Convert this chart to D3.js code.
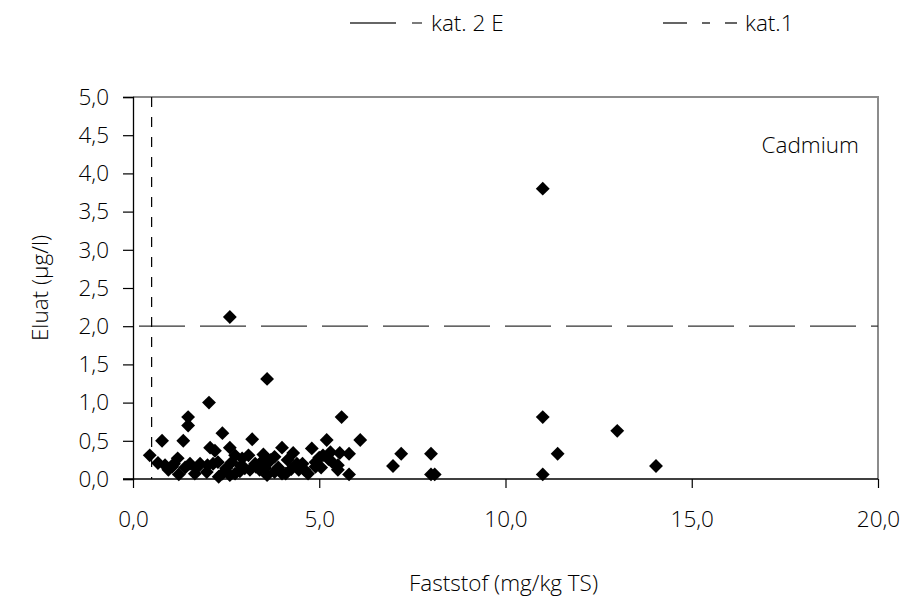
<!DOCTYPE html>
<html>
<head>
<meta charset="utf-8">
<script src="https://cdn.jsdelivr.net/npm/d3@7"></script>
<style>
  html, body { margin: 0; padding: 0; background: #fff; }
  svg { display: block; }
  text { font-family: "Open Sans", "Liberation Sans", sans-serif; font-weight: 300; fill: #000; }
</style>
</head>
<body>
<svg id="chart" width="919" height="602"></svg>
<script>
// Faststof (mg/kg TS) vs. Eluat (µg/l) for cadmium samples
const faststof = [
  0.45, 0.78, 0.67, 0.86, 1.05, 1.2, 1.23, 1.35, 1.48, 1.48, 1.53, 1.66, 1.8, 1.98, 2.04, 2.07, 2.15,
  2.2, 2.28, 2.3, 2.4, 2.4, 2.6, 2.6, 2.6, 2.65, 2.74, 2.74, 2.87, 2.93, 3.1, 3.14, 3.2, 3.28, 3.3,
  3.5, 3.5, 3.6, 3.6, 3.6, 3.7, 3.8, 3.8, 4.0, 4.0, 4.1, 4.15, 4.3, 4.4, 4.55, 4.7, 4.8, 4.9, 4.9,
  5.0, 5.1, 5.2, 5.3, 5.35, 5.5, 5.5, 5.55, 5.6, 5.8, 5.8, 6.1,
  0.95, 1.4, 1.7, 2.5, 2.9, 3.0, 3.4, 3.9, 4.25, 4.6, 5.05, 5.25, 1.1, 2.0, 3.55, 4.45,
  6.98, 7.2, 8.0, 8.0, 8.1, 11.0, 11.0, 11.0, 11.4, 13.0, 14.04
];
const eluat = [
  0.31, 0.5, 0.21, 0.18, 0.16, 0.27, 0.06, 0.5, 0.81, 0.7, 0.2, 0.07, 0.2, 0.09, 1.0, 0.41, 0.2,
  0.37, 0.22, 0.03, 0.6, 0.07, 2.12, 0.41, 0.05, 0.22, 0.31, 0.07, 0.1, 0.27, 0.31, 0.12, 0.52, 0.2, 0.16,
  0.32, 0.25, 1.31, 0.2, 0.05, 0.25, 0.29, 0.09, 0.41, 0.07, 0.07, 0.25, 0.34, 0.2, 0.2, 0.07, 0.4, 0.22, 0.16,
  0.28, 0.31, 0.51, 0.35, 0.22, 0.18, 0.12, 0.34, 0.81, 0.33, 0.06, 0.51,
  0.12, 0.15, 0.14, 0.14, 0.17, 0.14, 0.12, 0.15, 0.13, 0.12, 0.15, 0.26, 0.2, 0.18, 0.14, 0.12,
  0.17, 0.33, 0.33, 0.06, 0.06, 3.8, 0.81, 0.06, 0.33, 0.63, 0.17
];
const xTicks = [0, 5, 10, 15, 20];
const yTicks = [0, 0.5, 1, 1.5, 2, 2.5, 3, 3.5, 4, 4.5, 5];
const kat1Limit = 2.0;      // horizontal limit line (Eluat)
const kat2ELimit = 0.5;     // vertical limit line (Faststof)
const legendLabels = ["kat. 2 E", "kat.1"];
const panelLabel = "Cadmium";
const xTitle = "Faststof (mg/kg TS)";
const yTitle = "Eluat (µg/l)";

const svg = d3.select("#chart");
const margin = { left: 133, right: 41, top: 97, bottom: 123 };
const W = 919, H = 602;
const FS = 22.5;
const x = d3.scaleLinear().domain([0, 20]).range([margin.left, W - margin.right]);
const y = d3.scaleLinear().domain([0, 5]).range([H - margin.bottom, margin.top]);
const fmt = d => d3.format(".1f")(d).replace(".", ",");

// plot frame: grey top/right edges
svg.append("path")
  .attr("d", `M${x(0)},${y(5)}H${x(20)}V${y(0)}`)
  .attr("fill", "none").attr("stroke", "#8c8c8c").attr("stroke-width", 2);

// limit lines
svg.append("line")
  .attr("x1", x(0)).attr("x2", x(20)).attr("y1", y(kat1Limit)).attr("y2", y(kat1Limit))
  .attr("stroke", "#333").attr("stroke-width", 1.3).attr("stroke-dasharray", "46,15")
  .attr("stroke-dashoffset", -6);
svg.append("line")
  .attr("x1", x(kat2ELimit)).attr("x2", x(kat2ELimit)).attr("y1", y(5)).attr("y2", y(0))
  .attr("stroke", "#000").attr("stroke-width", 1.2).attr("stroke-dasharray", "10,10");

// axes
const xAxis = svg.append("g").attr("transform", `translate(0,${y(0)})`)
  .call(d3.axisBottom(x).tickValues(xTicks).tickFormat(fmt).tickSize(9).tickPadding(23));
const yAxis = svg.append("g").attr("transform", `translate(${x(0)},0)`)
  .call(d3.axisLeft(y).tickValues(yTicks).tickFormat(fmt).tickSize(10).tickPadding(14));
[xAxis, yAxis].forEach(g => {
  g.select(".domain").attr("stroke", "#000").attr("stroke-width", 1.3);
  g.selectAll(".tick line").attr("stroke", "#000").attr("stroke-width", 1.2);
  g.selectAll("text").attr("font-size", FS).attr("fill", "#000")
    .style("font-family", "'Open Sans', sans-serif").style("font-weight", 300);
});
xAxis.select(".domain").attr("d", `M${x(0) - 10},0H${x(20)}`);

// data markers (diamonds)
const diamond = d3.symbol().type(d3.symbolSquare).size(96);
svg.append("g").selectAll("path")
  .data(faststof.map((v, i) => [v, eluat[i]]))
  .join("path")
  .attr("d", diamond)
  .attr("transform", d => `translate(${x(d[0])},${y(d[1])}) rotate(45)`)
  .attr("fill", "#000");

// panel label
svg.append("text").attr("x", 859).attr("y", 153).attr("text-anchor", "end")
  .attr("font-size", FS).text(panelLabel);

// axis titles
svg.append("text").attr("x", x(10) - 2).attr("y", 591).attr("text-anchor", "middle")
  .attr("font-size", FS).text(xTitle);
svg.append("text").attr("transform", `translate(48,${(y(0) + y(5)) / 2}) rotate(-90)`)
  .attr("text-anchor", "middle").attr("font-size", FS).text(yTitle);

// legend
const legY = 23;
const leg = svg.append("g");
leg.append("line").attr("x1", 350).attr("x2", 396).attr("y1", legY).attr("y2", legY)
  .attr("stroke", "#333").attr("stroke-width", 1.3);
leg.append("line").attr("x1", 412).attr("x2", 422).attr("y1", legY).attr("y2", legY)
  .attr("stroke", "#333").attr("stroke-width", 1.3);
leg.append("text").attr("x", 431).attr("y", legY + 8).attr("font-size", FS).text(legendLabels[0]);
leg.append("line").attr("x1", 663).attr("x2", 737).attr("y1", legY).attr("y2", legY)
  .attr("stroke", "#333").attr("stroke-width", 1.3).attr("stroke-dasharray", "24,15,8,15");
leg.append("text").attr("x", 745).attr("y", legY + 8).attr("font-size", FS).text(legendLabels[1]);
</script>
</body>
</html>
